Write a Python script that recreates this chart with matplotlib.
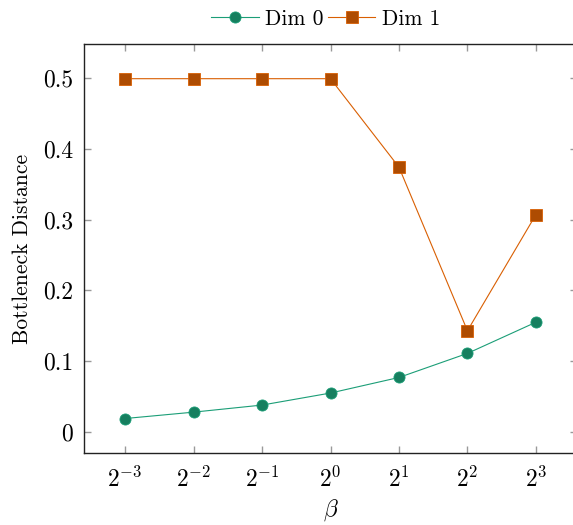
import numpy as np
import matplotlib.pyplot as plt

plt.rcParams['font.family'] = 'serif'
plt.rcParams['font.serif'] = ['cmr10']
plt.rcParams['mathtext.fontset'] = 'cm'
plt.rcParams['axes.formatter.use_mathtext'] = True

# beta = 2^k
exponents = [-3, -2, -1, 0, 1, 2, 3]
xtick_labels = [f'$2^{{{k}}}$' for k in exponents]
dim0 = [0.019, 0.028, 0.038, 0.055, 0.077, 0.111, 0.155]
dim1 = [0.499, 0.499, 0.499, 0.499, 0.374, 0.143, 0.307]

green = '#1b9e77'
orange = '#d95f02'

fig = plt.figure(figsize=(5.73, 5.25), dpi=100)
ax = fig.add_axes([84/573, 1 - 453/525, (577 - 84)/573, (453 - 44)/525])

ax.plot(exponents, dim0, color=green, lw=0.8, marker='o', ms=8,
        mfc='#167f5f', mec=green, mew=0.6, label='Dim 0')
ax.plot(exponents, dim1, color=orange, lw=0.8, marker='s', ms=8.5,
        mfc='#ae4c02', mec=orange, mew=0.6, label='Dim 1')

ax.set_xlim(-3.6, 3.6)
ax.set_ylim(-0.0297, 0.548)
ax.set_xticks(exponents)
ax.set_xticklabels(xtick_labels)
ax.set_yticks([0, 0.1, 0.2, 0.3, 0.4, 0.5])
ax.set_yticklabels(['0', '0.1', '0.2', '0.3', '0.4', '0.5'])
ax.tick_params(direction='in', length=5, width=1, color='#999999',
               labelsize=17, top=True, right=True, pad=8)
ax.tick_params(axis='x', pad=10)
for s in ax.spines.values():
    s.set_linewidth(1)
    s.set_color('#222222')

ax.set_xlabel(r'$\beta$', fontsize=17, labelpad=4)
ax.set_ylabel('Bottleneck Distance', fontsize=15.5, labelpad=8)

ax.legend(loc='lower center', bbox_to_anchor=(0.49, 1.0), ncol=2, frameon=False,
          fontsize=15.5, handlelength=2.2, handletextpad=0.3, columnspacing=0.2,
          borderaxespad=0.3)

fig.savefig('out.png', dpi=100)
